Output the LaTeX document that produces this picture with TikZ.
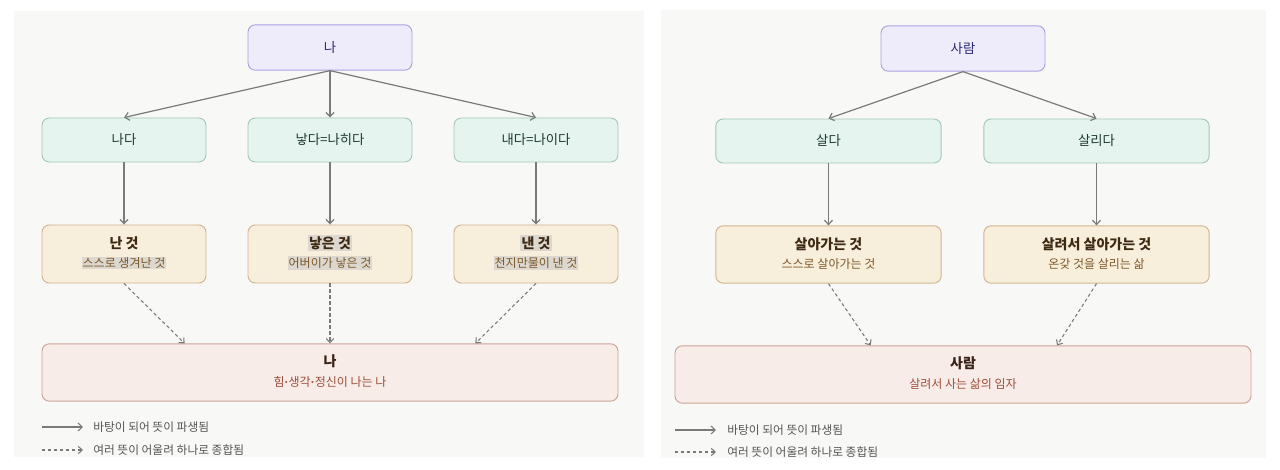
\documentclass[tikz,border=0pt]{standalone}
\usepackage{fontspec}
\setmainfont{Noto Sans CJK KR}
\newfontfamily\latinf{Liberation Sans}
\usetikzlibrary{arrows.meta,calc}
\definecolor{panelbg}{HTML}{F8F8F6}
\definecolor{topfill}{HTML}{EEECFB}
\definecolor{topdraw}{HTML}{A9A2DF}
\definecolor{toptext}{HTML}{2C2A72}
\definecolor{grnfill}{HTML}{E5F4EE}
\definecolor{grndraw}{HTML}{A2C8B9}
\definecolor{grntext}{HTML}{1F3B30}
\definecolor{begfill}{HTML}{F8EEDC}
\definecolor{begdraw}{HTML}{D2B48E}
\definecolor{begtitle}{HTML}{3E2A13}
\definecolor{begsub}{HTML}{7C5928}
\definecolor{botfill}{HTML}{F8ECE8}
\definecolor{botdraw}{HTML}{CDA295}
\definecolor{bottitle}{HTML}{3B2219}
\definecolor{botsub}{HTML}{9C4E3B}
\definecolor{linec}{HTML}{7A7A7A}
\definecolor{legtext}{HTML}{555555}
\definecolor{hilite}{HTML}{DCD7CF}
\newcommand{\mdot}{{\latinf\bfseries ·}}
\tikzset{
  box/.style={rounded corners=5.5pt, line width=0.7pt, inner sep=0pt, anchor=center},
  topbox/.style={box, fill=topfill, draw=topdraw, text=toptext, font=\fontsize{10}{12}\selectfont},
  grnbox/.style={box, fill=grnfill, draw=grndraw, text=grntext, font=\fontsize{10}{12}\selectfont},
  begbox/.style={box, fill=begfill, draw=begdraw},
  botbox/.style={box, fill=botfill, draw=botdraw},
  begt/.style={text=begtitle, font=\fontsize{10.5}{12}\selectfont\bfseries, inner sep=0.8pt},
  begs/.style={text=begsub, font=\fontsize{9}{11}\selectfont, inner sep=0.8pt},
  bott/.style={text=bottitle, font=\fontsize{10.5}{12}\selectfont\bfseries, inner sep=0.8pt},
  bots/.style={text=botsub, font=\fontsize{9}{11}\selectfont, inner sep=0.8pt},
  hl/.style={fill=hilite},
  solidarr/.style={draw=linec, line width=0.9pt, -{Straight Barb[length=3.2pt,width=6pt]}},
  dasharr/.style={draw=linec, line width=0.8pt, dash pattern=on 2.5pt off 2pt, -{Straight Barb[length=3pt,width=5.5pt]}},
  legt/.style={text=legtext, font=\fontsize{8.8}{10}\selectfont, anchor=west, inner sep=0pt},
}
\begin{document}
\begin{tikzpicture}[x=0.75pt,y=-0.75pt]
\useasboundingbox[fill=white] (0,0) rectangle (1280,470);
% panels
\fill[panelbg] (14,11) rectangle (644,457);
\fill[panelbg] (661,10) rectangle (1266,458);

% ===== Left panel =====
\node[topbox, minimum width=123pt, minimum height=34pt] (A) at (330,47.5) {나};
\node[grnbox, minimum width=123pt, minimum height=33pt] (B1) at (124,140) {나다};
\node[grnbox, minimum width=123pt, minimum height=33pt] (B2) at (330,140) {낳다=나히다};
\node[grnbox, minimum width=123pt, minimum height=33pt] (B3) at (536,140) {내다=나이다};
\node[begbox, minimum width=123pt, minimum height=43.5pt] (C1) at (124,254) {};
\node[begbox, minimum width=123pt, minimum height=43.5pt] (C2) at (330,254) {};
\node[begbox, minimum width=123pt, minimum height=43.5pt] (C3) at (536,254) {};
\node[begt] (C1t) at (124,243) {난 것};
\node[begs, hl] (C1s) at (124,263) {스스로 생겨난 것};
\node[begt, hl] (C2t) at (330,243) {낳은 것};
\node[begs, hl] (C2s) at (330,263) {어버이가 낳은 것};
\node[begt, hl] (C3t) at (536,243) {낸 것};
\node[begs, hl] (C3s) at (536,263) {천지만물이 낸 것};
\node[botbox, minimum width=432pt, minimum height=43pt] (D) at (330,372.5) {};
\node[bott] (Dt) at (330,361.5) {나};
\node[bots] (Ds) at (330,382) {힘\mdot 생각\mdot 정신이 나는 나};
\coordinate (D1) at ($(D.north west)!0.248!(D.north east)$);
\coordinate (D3) at ($(D.north west)!0.752!(D.north east)$);

\draw[solidarr] (A.south) -- (B1.north);
\draw[solidarr] (A.south) -- (B2.north);
\draw[solidarr] (A.south) -- (B3.north);
\draw[solidarr] (B1.south) -- (C1.north);
\draw[solidarr] (B2.south) -- (C2.north);
\draw[solidarr] (B3.south) -- (C3.north);
\draw[dasharr] (C1.south) -- (D1);
\draw[dasharr] (C2.south) -- (D.north);
\draw[dasharr] (C3.south) -- (D3);

% legend left
\coordinate (La1) at (42,427); \coordinate (La2) at (83,427);
\coordinate (Lb1) at (42,450); \coordinate (Lb2) at (83,450);
\draw[solidarr, line width=0.8pt] (La1) -- (La2);
\draw[dasharr] (Lb1) -- (Lb2);
\node[legt] (Lat) at (93,427) {바탕이 되어 뜻이 파생됨};
\node[legt] (Lbt) at (93,450) {여러 뜻이 어울려 하나로 종합됨};

% ===== Right panel =====
\node[topbox, minimum width=123pt, minimum height=34pt] (RA) at (963,48.5) {사람};
\node[grnbox, minimum width=169pt, minimum height=33pt] (RB1) at (828.5,141) {살다};
\node[grnbox, minimum width=169pt, minimum height=33pt] (RB2) at (1096.5,141) {살리다};
\node[begbox, minimum width=169pt, minimum height=43pt] (RC1) at (828.5,254.5) {};
\node[begbox, minimum width=169pt, minimum height=43pt] (RC2) at (1096.5,254.5) {};
\node[begt] (RC1t) at (828.5,244) {살아가는 것};
\node[begs] (RC1s) at (828.5,264) {스스로 살아가는 것};
\node[begt] (RC2t) at (1096.5,244) {살려서 살아가는 것};
\node[begs] (RC2s) at (1096.5,264) {온갖 것을 살리는 삶};
\node[botbox, minimum width=432pt, minimum height=43pt] (RD) at (963,374.5) {};
\node[bott] (RDt) at (963,363.5) {사람};
\node[bots] (RDs) at (963,384) {살려서 사는 삶의 임자};
\coordinate (RD1) at ($(RD.north west)!0.34!(RD.north east)$);
\coordinate (RD2) at ($(RD.north west)!0.663!(RD.north east)$);

\draw[solidarr] (RA.south) -- (RB1.north);
\draw[solidarr] (RA.south) -- (RB2.north);
\draw[solidarr] (RB1.south) -- (RC1.north);
\draw[solidarr] (RB2.south) -- (RC2.north);
\draw[dasharr] (RC1.south) -- (RD1);
\draw[dasharr] (RC2.south) -- (RD2);

% legend right
\coordinate (RLa1) at (675,430); \coordinate (RLa2) at (716,430);
\coordinate (RLb1) at (675,452); \coordinate (RLb2) at (716,452);
\draw[solidarr, line width=0.8pt] (RLa1) -- (RLa2);
\draw[dasharr] (RLb1) -- (RLb2);
\node[legt] (RLat) at (727,430) {바탕이 되어 뜻이 파생됨};
\node[legt] (RLbt) at (727,452) {여러 뜻이 어울려 하나로 종합됨};
\end{tikzpicture}
\end{document}
